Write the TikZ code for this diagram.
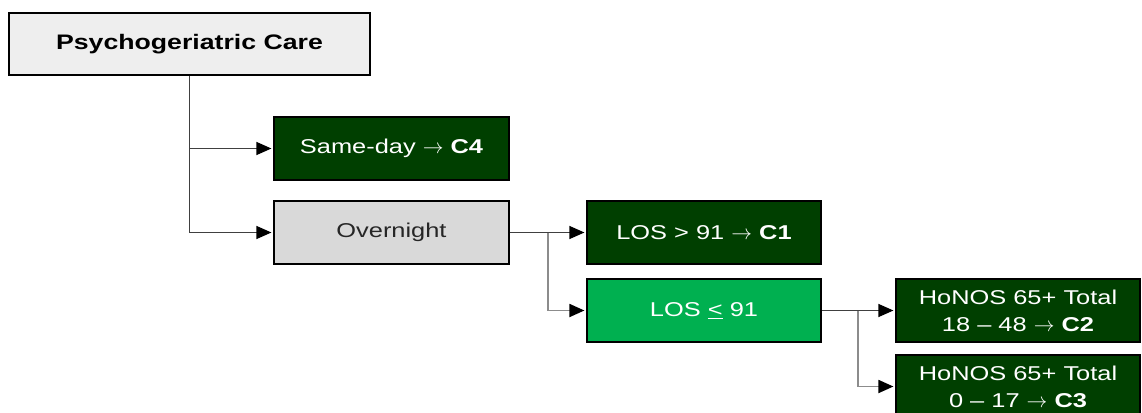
\documentclass[tikz,border=0pt]{standalone}
\usepackage{fontspec}
\setmainfont{Liberation Sans}[FakeStretch=1.27]
\usetikzlibrary{arrows.meta}
\definecolor{darkgreen}{HTML}{003F00}
\definecolor{brightgreen}{HTML}{00B050}
\definecolor{lightbox}{HTML}{EEEEEE}
\definecolor{midbox}{HTML}{D9D9D9}
\definecolor{linegray}{HTML}{404040}
\definecolor{branchgray}{HTML}{8C8C8C}
\tikzset{
  box/.style={draw=black, line width=2.6pt, inner sep=0pt, minimum height=63pt,
    font=\fontsize{20}{27}\selectfont, align=center},
  rootbox/.style={box, fill=lightbox, minimum width=361pt, minimum height=62pt,
    font=\fontsize{21}{27}\selectfont\bfseries},
  greybox/.style={box, fill=midbox, text=black!85},
  darkbox/.style={box, fill=darkgreen, text=white},
  brightbox/.style={box, fill=brightgreen, text=white},
  conn/.style={draw=linegray, line width=1.3pt, shorten >=1.3pt,
    -{Triangle[length=15pt,width=13pt,fill=black,color=black]}},
  branch/.style={conn, draw=branchgray, line width=1.8pt}
}
\begin{document}
\begin{tikzpicture}[x=1pt,y=-1pt]
  \useasboundingbox (0,0) rectangle (1142,412);
  \clip (0,0) rectangle (1142,412);

  % boxes
  \node[rootbox] (root) at (189.5,44) {Psychogeriatric Care};
  \node[darkbox, minimum width=235pt] (same) at (391.5,148.5) {Same-day \(\rightarrow\) \textbf{C4}};
  \node[greybox, minimum width=235pt] (over) at (391.5,232.5) {Overnight};
  \node[darkbox, minimum width=234pt] (long) at (704,232.5) {LOS > 91 \(\rightarrow\) \textbf{C1}};
  \node[brightbox, minimum width=234pt] (short) at (704,310.5) {LOS \underline{<} 91};
  \node[darkbox, minimum width=244pt] (high) at (1018,310.5) {HoNOS 65+ Total\\18 – 48 \(\rightarrow\) \textbf{C2}};
  \node[darkbox, minimum width=244pt] (low) at (1018,386.5) {HoNOS 65+ Total\\0 – 17 \(\rightarrow\) \textbf{C3}};

  % branch points
  \coordinate (j1) at (548,232.5);
  \coordinate (j2) at (858,310.5);

  % connectors
  \draw[conn] (root.south) |- (same.west);
  \draw[conn] (root.south) |- (over.west);
  \draw[conn] (over.east) -- (long.west);
  \draw[branch] (j1) |- (short.west);
  \draw[conn] (short.east) -- (high.west);
  \draw[branch] (j2) |- (low.west);
\end{tikzpicture}
\end{document}
